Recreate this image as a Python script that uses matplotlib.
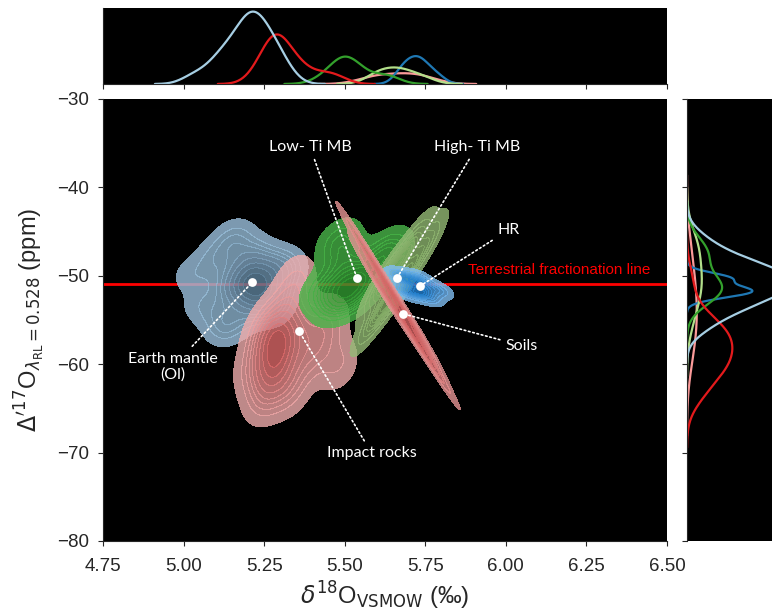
import numpy as np
import pandas as pd
import matplotlib
matplotlib.use('Agg')
import matplotlib.pyplot as plt
import seaborn as sns

sns.set_style('ticks')
plt.rcParams['font.family'] = ['Liberation Sans', 'DejaVu Sans']

# oxygen isotope data per sample group: d18O (permil) and D'17O (ppm)
groups = ['Earth mantle (Ol)', 'Impact rocks', 'Low-Ti MB', 'High-Ti MB', 'HR', 'Soils']
colors = ['#a6cee3', '#e31a1c', '#33a02c', '#b2df8a', '#1f78b4', '#fb9a99']
# outer / inner shades of the filled density contours
fill_light = ['#9fc4e0', '#f0b0b0', '#4cb84c', '#96bc77', '#89c4f5', '#e89a9a']
fill_dark = ['#587a93', '#d86262', '#2f962f', '#7fa862', '#1f7fd0', '#d46262']

earth_x = [5.02, 5.05, 5.08, 5.10, 5.11, 5.13, 5.14, 5.15, 5.16, 5.17, 5.18, 5.19,
           5.19, 5.20, 5.20, 5.21, 5.21, 5.22, 5.22, 5.23, 5.23, 5.24, 5.25, 5.25,
           5.26, 5.27, 5.28, 5.29, 5.30, 5.31, 5.33, 5.12, 5.17, 5.22, 5.27]
earth_y = [-50.05, -53.3, -48.7, -54.2, -47.3, -51.3, -55.6, -46.3, -50.55, -52.4, -49.05, -51.7,
           -54.6, -50.9, -48.05, -51.4, -50.3, -53.0, -49.55, -51.05, -47.2, -50.7, -52.7, -49.3,
           -52.1, -50.05, -53.7, -48.4, -51.6, -49.8, -48.8, -56.1, -45.3, -51.2, -53.4]

impact_x = [5.22, 5.25, 5.26, 5.27, 5.28, 5.28, 5.29, 5.29, 5.30, 5.30,
            5.31, 5.32, 5.33, 5.35, 5.36, 5.38, 5.42, 5.45, 5.48, 5.25]
impact_y = [-60.5, -57.0, -62.0, -55.5, -58.5, -60.0, -57.0, -59.2, -56.2, -61.5,
            -58.0, -53.5, -63.0, -50.5, -56.0, -59.5, -57.5, -55.0, -60.0, -64.0]

lowti_x = [5.43, 5.47, 5.48, 5.49, 5.50, 5.51, 5.52, 5.54, 5.56, 5.62, 5.64]
lowti_y = [-51.5, -53.0, -46.0, -51.5, -48.0, -51.0, -52.5, -50.0, -51.0, -48.2, -47.0]

highti_x = [5.59, 5.61, 5.64, 5.66, 5.68, 5.71, 5.75]
highti_y = [-55.0, -51.2, -52.6, -48.8, -50.6, -46.4, -46.6]

hr_x = [5.67, 5.69, 5.70, 5.72, 5.73, 5.74, 5.76, 5.79]
hr_y = [-50.0, -51.8, -50.5, -51.9, -50.3, -51.4, -52.4, -51.6]

soils_x = [5.57, 5.61, 5.65, 5.69, 5.72, 5.76]
soils_y = [-47.4, -51.1, -52.2, -55.4, -56.0, -59.3]

group_x = [earth_x, impact_x, lowti_x, highti_x, hr_x, soils_x]
group_y = [earth_y, impact_y, lowti_y, highti_y, hr_y, soils_y]

df = pd.concat([pd.DataFrame({'d18O': gx, 'D17O': gy, 'group': g})
                for g, gx, gy in zip(groups, group_x, group_y)], ignore_index=True)
palette = dict(zip(groups, colors))

# annotation anchors and label positions
label_text = ['Earth mantle\n(Ol)', 'Impact rocks', 'Low- Ti MB', 'High- Ti MB', 'HR', 'Soils']
anchor_x = [5.213, 5.358, 5.538, 5.662, 5.734, 5.681]
anchor_y = [-50.73, -56.24, -50.25, -50.25, -51.15, -54.30]
text_x = [4.967, 5.584, 5.392, 5.910, 5.975, 6.000]
text_y = [-60.3, -70.1, -35.4, -35.4, -44.8, -57.9]
text_ha = ['center', 'center', 'center', 'center', 'left', 'left']

tfl_y = -50.9

fig = plt.figure(figsize=(7.72, 6.13), dpi=100)
ax = fig.add_axes([0.1334, 0.1175, 0.7306, 0.7210])
ax_top = fig.add_axes([0.1334, 0.863, 0.7306, 0.124], sharex=ax)
ax_right = fig.add_axes([0.8899, 0.1175, 0.145, 0.7210], sharey=ax)
for a in (ax, ax_top, ax_right):
    a.set_facecolor('black')

ax.axhline(tfl_y, color='#ff0000', lw=2, zorder=0.5)

for g, lo, hi in zip(groups, fill_light, fill_dark):
    sub = df[df['group'] == g]
    sns.kdeplot(x=sub['d18O'], y=sub['D17O'], fill=True, alpha=0.8,
                cmap=sns.blend_palette([lo, hi], as_cmap=True), ax=ax)

sns.kdeplot(data=df, x='d18O', hue='group', palette=palette, common_norm=True,
            legend=False, linewidth=1.6, ax=ax_top)
sns.kdeplot(data=df, y='D17O', hue='group', palette=palette, common_norm=True,
            legend=False, linewidth=1.6, ax=ax_right)

ax.text(5.883, tfl_y + 0.8, 'Terrestrial fractionation line', color='#ff0000',
        fontsize=11, ha='left', va='bottom')

for lab, ax0, ay0, tx, ty, ha in zip(label_text, anchor_x, anchor_y, text_x, text_y, text_ha):
    ax.annotate(lab, xy=(ax0, ay0), xytext=(tx, ty), color='white', fontsize=11.5,
                family='Lato', ha=ha, va='center', multialignment='center',
                arrowprops=dict(arrowstyle='-', color='white', lw=1.2, linestyle=':',
                                shrinkA=2, shrinkB=0))
ax.scatter(anchor_x, anchor_y, s=40, color='white', zorder=5, linewidths=0)

ax.set_xlim(4.75, 6.5)
ax.set_ylim(-80, -30)
ax.set_xticks(np.arange(4.75, 6.51, 0.25))
ax.set_xticklabels([f'{v:.2f}' for v in np.arange(4.75, 6.51, 0.25)])
ax.set_yticks(np.arange(-80, -29, 10))
ax.tick_params(labelsize=13.5)
ax.tick_params(axis='x', pad=9)
ax.tick_params(axis='y', pad=6.5)
ax.set_xlabel(r'$\delta^{18}$O$_{\mathrm{VSMOW}}$ (‰)', fontsize=17, labelpad=3)
ax.set_ylabel(r"$\Delta'^{17}$O$_{\lambda_{\mathrm{RL}}=0.528}$ (ppm)", fontsize=17, labelpad=7)
ax.spines['top'].set_visible(False)
ax.spines['right'].set_visible(False)

ax_top.set_xlabel('')
ax_top.set_ylabel('')
ax_top.tick_params(labelbottom=False, left=False, labelleft=False)
ax_top.spines['top'].set_visible(False)
ax_top.spines['right'].set_visible(False)

ax_right.set_xlabel('')
ax_right.set_ylabel('')
ax_right.tick_params(labelleft=False, bottom=False, labelbottom=False)
ax_right.spines['top'].set_visible(False)
ax_right.spines['right'].set_visible(False)
ax_right.spines['bottom'].set_visible(False)

fig.savefig('out.png', dpi=100, facecolor='white')
